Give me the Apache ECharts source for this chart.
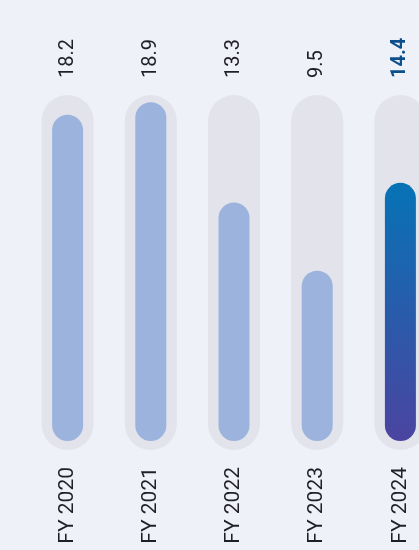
<!DOCTYPE html>
<html>
<head>
<meta charset="utf-8">
<script src="https://cdn.jsdelivr.net/npm/echarts@6/dist/echarts.min.js"></script>
<style>
  html, body { margin: 0; padding: 0; background: #eff1f9; }
  #chart { width: 419px; height: 550px; }
</style>
</head>
<body>
<div id="chart"></div>
<script>
// Fiscal years and their values
const categories = ['FY 2020', 'FY 2021', 'FY 2022', 'FY 2023', 'FY 2024'];
const values = [18.2, 18.9, 13.3, 9.5, 14.4];
const valueLabels = ['18.2', '18.9', '13.3', '9.5', '14.4'];

const highlightIndex = categories.length - 1;
const FONT = 'Roboto, "Noto Sans", sans-serif';

const chart = echarts.init(document.getElementById('chart'), null, { renderer: 'canvas' });

const barData = values.map((v, i) => {
  if (i !== highlightIndex) return v;
  return {
    value: v,
    itemStyle: {
      color: new echarts.graphic.LinearGradient(0, 0, 0, 1, [
        { offset: 0, color: '#0673b6' },
        { offset: 1, color: '#4b44a0' }
      ])
    }
  };
});

chart.setOption({
  backgroundColor: '#eff1f9',
  animation: false,
  grid: { left: 26, width: 416, top: 95, bottom: 100, outerBoundsMode: 'none' },
  xAxis: {
    type: 'category',
    data: categories,
    axisLine: { show: false },
    axisTick: { show: false },
    axisLabel: {
      rotate: 90,
      margin: 17,
      fontSize: 21,
      fontFamily: FONT,
      color: '#1f1f24',
      interval: 0
    }
  },
  yAxis: {
    type: 'value',
    min: -0.5,
    max: 19.3,
    show: false
  },
  series: [
    {
      // Grey capsule track behind each bar, with the value printed above it
      type: 'custom',
      data: values.map((v, i) => [i, v]),
      renderItem: function (params, api) {
        const i = api.value(0);
        const cs = params.coordSys;
        const cx = api.coord([i, 0])[0];
        const w = 52;
        const hi = i === highlightIndex;
        return {
          type: 'group',
          children: [
            {
              type: 'rect',
              shape: { x: cx - w / 2, y: cs.y, width: w, height: cs.height, r: w / 2 },
              style: { fill: '#e2e3eb' }
            },
            {
              type: 'text',
              x: cx,
              y: cs.y - 17,
              rotation: Math.PI / 2,
              style: {
                text: valueLabels[i],
                fontSize: 20,
                fontFamily: FONT,
                fontWeight: hi ? 'bold' : 'normal',
                fill: hi ? '#0d4f8b' : '#1f1f24',
                align: 'left',
                verticalAlign: 'middle'
              }
            }
          ]
        };
      },
      z: 1
    },
    {
      type: 'bar',
      data: barData,
      barWidth: 31,
      itemStyle: { color: '#9cb4dd', borderRadius: 15.5 },
      z: 2
    }
  ]
});
</script>
</body>
</html>
